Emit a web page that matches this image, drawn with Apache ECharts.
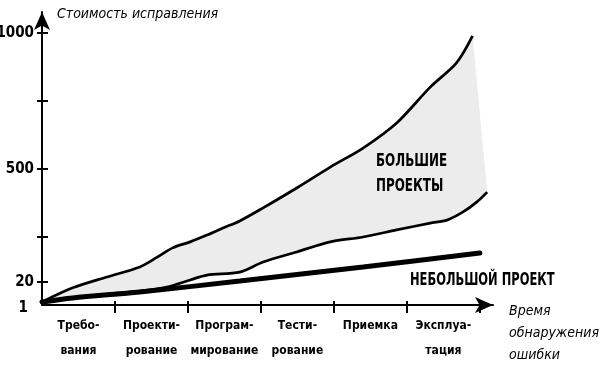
<!DOCTYPE html>
<html>
<head>
<meta charset="utf-8">
<script src="https://cdn.jsdelivr.net/npm/echarts@6/dist/echarts.min.js"></script>
<style>
html,body{margin:0;padding:0;background:#fff;}
#chart{width:600px;height:368px;}
</style>
</head>
<body>
<div id="chart"></div>
<script>
// Phase categories (x axis, one unit per phase)
const phases = ['Требо-\nвания', 'Проекти-\nрование', 'Програм-\nмирование', 'Тести-\nрование', 'Приемка', 'Эксплуа-\nтация'];
// Y axis tick labels and their positions on the cost scale
const yLabelValues = [0, 85, 500, 1000];
const yLabelTexts = ['1', '20', '500', '1000'];
const yTickValues = [85, 250, 500, 750, 1000];

// Large projects: upper boundary
const bigUpperX = [0, 0.42, 0.89, 1.34, 1.58, 1.79, 2.03, 2.26, 2.48, 2.71, 3.03, 3.49, 3.95, 4.40, 4.86, 5.32, 5.68, 5.90];
const bigUpperY = [11, 63, 103, 140, 176, 210, 232, 257, 283, 309, 357, 430, 507, 577, 669, 801, 890, 989];
// Large projects: lower boundary
const bigLowerX = [0, 0.42, 0.89, 1.34, 1.71, 2.03, 2.26, 2.71, 3.03, 3.49, 3.95, 4.40, 4.86, 5.32, 5.55, 5.77, 5.96, 6.10];
const bigLowerY = [11, 26, 40, 51, 66, 92, 110, 121, 158, 195, 232, 250, 276, 301, 312, 342, 379, 415];
// Small project
const smallX = [0, 0.42, 1.34, 2.71, 4.40, 6.0];
const smallY = [11, 26, 48, 88, 140, 191];

const pairs = (xs, ys) => xs.map((x, i) => [x, ys[i]]);
const upper = pairs(bigUpperX, bigUpperY);
const lower = pairs(bigLowerX, bigLowerY);
const small = pairs(smallX, smallY);

const FONT = '"DejaVu Sans Condensed", "DejaVu Sans", sans-serif';
const chart = echarts.init(document.getElementById('chart'), null, {renderer: 'canvas'});

const baseX = {type: 'value', min: 0, max: 6.18, splitLine: {show: false}};
const baseY = {type: 'value', min: 0, max: 1077, splitLine: {show: false}};

chart.setOption({
  animation: false,
  backgroundColor: '#fff',
  grid: {left: 42, right: 107, top: 12, bottom: 63, containLabel: false, outerBoundsMode: 'none'},
  xAxis: [
    Object.assign({}, baseX, {
      position: 'bottom',
      name: 'Время\nобнаружения\nошибки',
      nameLocation: 'end',
      nameGap: 16,
      nameTextStyle: {fontFamily: FONT, fontStyle: 'italic', fontSize: 14, color: '#000', align: 'left', verticalAlign: 'top', lineHeight: 22, padding: [-5, 0, 0, 0]},
      axisLine: {show: true, lineStyle: {color: '#000', width: 2}, symbol: ['none', 'arrow'], symbolSize: [12, 18]},
      axisTick: {show: true, inside: false, length: 8, lineStyle: {color: '#000', width: 2}, customValues: [1, 2, 3, 4, 5, 6]},
      axisLabel: {
        show: true, customValues: [0.5, 1.5, 2.5, 3.5, 4.5, 5.5],
        formatter: (v) => phases[Math.round(v - 0.5)],
        fontFamily: FONT, fontWeight: 'bold', fontSize: 12, color: '#000', lineHeight: 25, margin: 8,
        verticalAlign: 'top'
      }
    }),
    Object.assign({}, baseX, {
      position: 'bottom',
      axisLine: {show: false},
      axisTick: {show: true, inside: true, length: 4, lineStyle: {color: '#000', width: 2}, customValues: [1, 2, 3, 4, 5, 6]},
      axisLabel: {show: false}
    })
  ],
  yAxis: [
    Object.assign({}, baseY, {
      position: 'left',
      name: 'Стоимость исправления',
      nameLocation: 'end',
      nameGap: -2,
      nameTextStyle: {fontFamily: FONT, fontStyle: 'italic', fontSize: 14, color: '#000', align: 'left', verticalAlign: 'middle', padding: [0, 0, 0, 15]},
      axisLine: {show: true, lineStyle: {color: '#000', width: 2}, symbol: ['none', 'arrow'], symbolSize: [12, 18]},
      axisTick: {show: true, inside: false, length: 5, lineStyle: {color: '#000', width: 2}, customValues: yTickValues},
      axisLabel: {
        show: true, customValues: yLabelValues,
        formatter: (v) => {
          const i = yLabelValues.indexOf(v);
          return i === 0 ? '{one|' + yLabelTexts[i] + '}' : yLabelTexts[i];
        },
        rich: {one: {fontFamily: FONT, fontWeight: 'bold', fontSize: 15, color: '#000', padding: [6, 6, 0, 0]}},
        fontFamily: FONT, fontWeight: 'bold', fontSize: 15, color: '#000', margin: 8
      }
    }),
    Object.assign({}, baseY, {
      position: 'left',
      axisLine: {show: false},
      axisTick: {show: true, inside: true, length: 6, lineStyle: {color: '#000', width: 2}, customValues: yTickValues},
      axisLabel: {show: false}
    })
  ],
  series: [
    {
      type: 'custom',
      z: 1,
      silent: true,
      data: [[0, 0]],
      renderItem: (params, api) => {
        const pts = upper.concat(lower.slice().reverse()).map(p => api.coord(p));
        return {type: 'polygon', shape: {points: pts, smooth: 0}, style: {fill: '#ececec', stroke: null}};
      }
    },
    {type: 'line', data: upper, smooth: 0.3, showSymbol: false, z: 3, lineStyle: {color: '#000', width: 2.7}},
    {type: 'line', data: lower, smooth: 0.3, showSymbol: false, z: 3, lineStyle: {color: '#000', width: 2.7}},
    {type: 'line', data: small, smooth: 0.3, showSymbol: false, z: 4, lineStyle: {color: '#000', width: 5, cap: 'round'}}
  ],
  graphic: [
    {type: 'text', left: 376, top: 149, z: 10, scaleX: 0.78,
     style: {text: 'БОЛЬШИЕ\nПРОЕКТЫ', fontFamily: FONT, fontWeight: 'bold', fontSize: 17, lineHeight: 25, fill: '#000'}},
    {type: 'text', left: 410, top: 272, z: 10, scaleX: 0.75,
     style: {text: 'НЕБОЛЬШОЙ ПРОЕКТ', fontFamily: FONT, fontWeight: 'bold', fontSize: 17, fill: '#000'}}
  ]
});
</script>
</body>
</html>
